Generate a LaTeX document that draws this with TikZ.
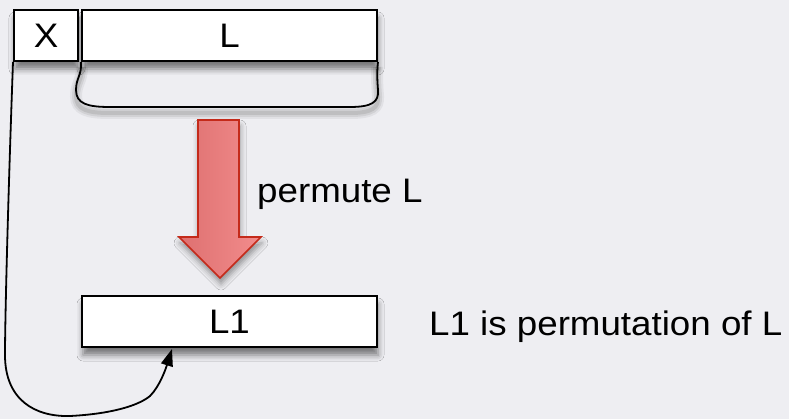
\documentclass[tikz,border=0pt]{standalone}
\usepackage{fontspec}
\setmainfont{Liberation Sans}[FakeStretch=1.08]
\usetikzlibrary{shadows.blur,arrows.meta}
\definecolor{bgcol}{RGB}{238,238,242}
\definecolor{arrowedge}{RGB}{196,42,26}
\definecolor{arrowleft}{RGB}{222,112,112}
\definecolor{arrowright}{RGB}{242,140,140}
\tikzset{
  box/.style={draw=black, fill=white, line width=2pt, inner sep=0pt,
    minimum height=51pt, font=\fontsize{34}{37}\selectfont,
    text height=24pt, text depth=0pt,
    blur shadow={shadow xshift=1pt, shadow yshift=-8pt, shadow blur radius=6pt, shadow opacity=50}},
  label/.style={font=\fontsize{34}{37}\selectfont, inner sep=0pt},
  conn/.style={draw=black, line width=2pt},
}
\begin{document}
\begin{tikzpicture}[x=1pt,y=-1pt]
\fill[bgcol] (0,0) rectangle (789,419);
\useasboundingbox (0,0) rectangle (789,419);
% brace shadow
\foreach \w/\o in {12/0.05,8/0.07,4/0.09}{
  \draw[black, opacity=\o, line width=\w pt, yshift=-6pt]
    (82,61) .. controls (82,75) and (76,78) .. (76,90)
    .. controls (76,104) and (88,107) .. (110,107) -- (350,107)
    .. controls (372,107) and (379,102) .. (378,90)
    .. controls (377,78) and (377,70) .. (377,61);
}
% boxes
\node[box, minimum width=64pt] (X) at (46,35.5) {X};
\node[box, minimum width=295pt] (L) at (229.5,35.5) {L};
\node[box, minimum width=295pt] (L1) at (229.5,321.5) {L1};
% brace
\draw[conn, line width=1.8pt]
    (L.south west) .. controls (82,75) and (76,78) .. (76,90)
    .. controls (76,104) and (88,107) .. (110,107) -- (350,107)
    .. controls (372,107) and (379,102) .. (378,90)
    .. controls (377,78) and (377,70) .. (L.south east);
% red arrow
\path[draw=arrowedge, line width=1.6pt, left color=arrowleft, right color=arrowright, line join=miter,
  blur shadow={shadow xshift=1pt, shadow yshift=-6pt, shadow blur radius=6pt, shadow opacity=40}]
  (198,120) -- (239,120) -- (239,237) -- (261,237) -- (220,278) -- (179,237) -- (198,237) -- cycle;
\node[label, anchor=base west] (perm) at (257,203) {permute L};
\node[label, anchor=base west] (desc) at (429,335) {L1 is permutation of L};
% curved connector
\coordinate (tip) at (172,349);
\draw[conn, line width=1.8pt, -{Triangle[length=17pt,width=12pt]}]
  (X.south west) .. controls (8,200) and (5,320) .. (5,355)
  .. controls (5,400) and (35,417) .. (70,416)
  .. controls (110,414) and (138,406) .. (150,396)
  .. controls (160,386) and (166,368) .. (tip);
\end{tikzpicture}
\end{document}
